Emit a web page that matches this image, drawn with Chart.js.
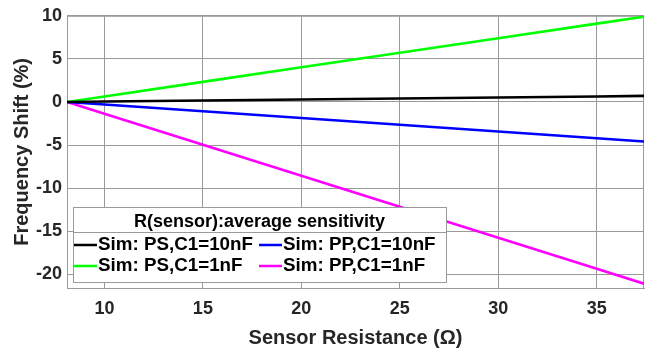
<!DOCTYPE html>
<html>
<head>
<meta charset="utf-8">
<script src="https://cdn.jsdelivr.net/npm/chart.js@4"></script>
<style>
  html, body { margin: 0; padding: 0; background: #fff; }
  #wrap { width: 645px; height: 350px; }
</style>
</head>
<body>
<div id="wrap"><canvas id="graphCanvas" width="645" height="350"></canvas></div>
<script>
var resistance = [8.1, 10, 15, 20, 25, 30, 35, 37.4];

var psC10 = [0, 0.05, 0.16, 0.28, 0.40, 0.52, 0.64, 0.70];
var psC1  = [0, 0.64, 2.33, 4.02, 5.71, 7.40, 9.09, 9.90];
var ppC10 = [0, -0.30, -1.08, -1.87, -2.65, -3.44, -4.22, -4.60];
var ppC1  = [0, -1.37, -4.97, -8.57, -12.17, -15.77, -19.37, -21.10];

var seriesLabels = ["Sim: PS,C1=10nF", "Sim: PS,C1=1nF", "Sim: PP,C1=10nF", "Sim: PP,C1=1nF"];
var seriesColors = ["#000000", "#00ff00", "#0000ff", "#ff00ff"];
var legendTitle = "R(sensor):average sensitivity";

var xTicks = [10, 15, 20, 25, 30, 35];
var yTicks = [-20, -15, -10, -5, 0, 5, 10];

function toPoints(ys) {
  var pts = [];
  for (var i = 0; i < resistance.length; i++) {
    pts.push({x: resistance[i], y: ys[i]});
  }
  return pts;
}

var allSeries = [psC10, psC1, ppC10, ppC1];
var datasets = [];
for (var s = 0; s < allSeries.length; s++) {
  datasets.push({
    label: seriesLabels[s],
    data: toPoints(allSeries[s]),
    borderColor: seriesColors[s],
    backgroundColor: seriesColors[s],
    borderWidth: 2.6,
    pointRadius: 0,
    showLine: true,
    tension: 0
  });
}

var gridColor = "#9a9a9a";
var fontFam = "'Liberation Sans', Arial, sans-serif";

// boxed legend with a title row, two columns, drawn over the plot
var boxLegend = {
  id: "boxLegend",
  beforeDatasetsDraw: function(chart) {
    var ctx = chart.ctx, a = chart.chartArea;
    ctx.save();
    ctx.strokeStyle = gridColor;
    ctx.lineWidth = 1;
    ctx.strokeRect(a.left + 0.5, a.top + 0.5, a.right - a.left - 1, a.bottom - a.top);
    ctx.restore();
  },
  afterDatasetsDraw: function(chart) {
    var ctx = chart.ctx;
    var bx = 73, by = 207, bw = 373, bh = 75;
    ctx.save();
    ctx.fillStyle = "#fff";
    ctx.fillRect(bx, by, bw, bh);
    ctx.strokeStyle = gridColor;
    ctx.lineWidth = 1;
    ctx.strokeRect(bx + 0.5, by + 0.5, bw, bh);
    ctx.beginPath();
    ctx.moveTo(bx, 232.5);
    ctx.lineTo(bx + bw, 232.5);
    ctx.stroke();

    ctx.fillStyle = "#000";
    ctx.font = "bold 18px " + fontFam;
    ctx.textAlign = "center";
    ctx.textBaseline = "middle";
    ctx.fillText(legendTitle, bx + bw / 2, 222);

    ctx.font = "bold 18.8px " + fontFam;
    var colX = [74, 259];
    var rowY = [245, 266];
    ctx.textAlign = "left";
    var ds = chart.data.datasets;
    for (var i = 0; i < ds.length; i++) {
      var cx = colX[Math.floor(i / 2)];
      var cy = rowY[i % 2];
      ctx.strokeStyle = ds[i].borderColor;
      ctx.lineWidth = 2.5;
      ctx.beginPath();
      ctx.moveTo(cx, cy);
      ctx.lineTo(cx + 23, cy);
      ctx.stroke();
      ctx.fillStyle = "#000";
      ctx.fillText(ds[i].label, cx + 24, cy);
    }
    ctx.restore();
  }
};

var canvas = document.getElementById('graphCanvas').getContext('2d');

var chart = new Chart(canvas, {
  type: 'scatter',
  data: { datasets: datasets },
  plugins: [boxLegend],
  options: {
    responsive: false,
    animation: false,
    layout: { padding: { left: 0, right: 1, top: 13, bottom: 0 } },
    plugins: {
      legend: { display: false },
      tooltip: { enabled: false }
    },
    scales: {
      x: {
        type: 'linear',
        min: 8.1,
        max: 37.4,
        afterBuildTicks: function(scale) {
          scale.ticks = xTicks.map(function(v) { return {value: v}; });
        },
        afterFit: function(scale) { scale.height = 62; },
        grid: { color: gridColor, drawTicks: false },
        border: { display: true, color: gridColor },
        ticks: {
          color: "#262626",
          padding: 10,
          font: { family: fontFam, size: 18, weight: 'bold' }
        },
        title: {
          display: true,
          text: "Sensor Resistance (\u03A9)",
          color: "#262626",
          padding: { top: 0, bottom: 0 },
          font: { family: fontFam, size: 20, weight: 'bold' }
        }
      },
      y: {
        min: -21.6,
        max: 10,
        afterBuildTicks: function(scale) {
          scale.ticks = yTicks.map(function(v) { return {value: v}; });
        },
        afterFit: function(scale) { scale.width = 67; },
        grid: { color: gridColor, drawTicks: false },
        border: { display: true, color: gridColor },
        ticks: {
          color: "#262626",
          padding: 5,
          font: { family: fontFam, size: 18, weight: 'bold' }
        },
        title: {
          display: true,
          text: "Frequency Shift (%)",
          color: "#262626",
          padding: { top: 10, bottom: 0 },
          font: { family: fontFam, size: 20, weight: 'bold' }
        }
      }
    }
  }
});
</script>
</body>
</html>
